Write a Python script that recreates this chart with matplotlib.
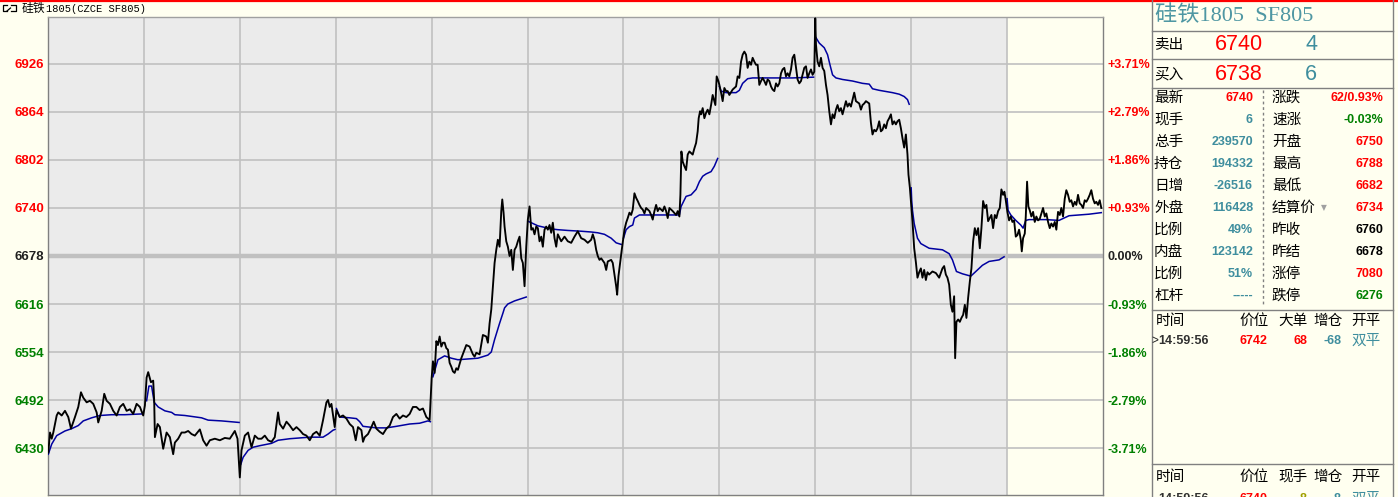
import numpy as np
import matplotlib
matplotlib.use("Agg")
from matplotlib import pyplot as plt

plt.rcParams["font.family"] = ["Liberation Sans", "Noto Sans CJK SC", "DejaVu Sans"]

# time in slots, 96 slots per trading day, 11 days on screen
price_t = [
    0.3, 2, 3.7, 5.3, 8.7, 10.3, 13.7, 17, 20.3, 23, 27, 30.3, 33, 35.3, 38.7, 42, 45.3, 48.7, 50.3, 53.7,
    56.3, 58.7, 62, 65.3, 68.7, 72, 75.3, 78.7, 82, 85.3, 88.7, 92, 95.3,
    97, 98.7, 100.3, 103, 105.3, 106.3, 107, 109.7, 112, 115.3, 118.7, 122, 125.3, 127, 130.3, 133.7, 137,
    140.3, 143.7, 147, 152, 155.3, 158.7, 162, 167, 172, 177, 182, 187, 189.7,
    192, 193.7, 197, 200.3, 203.7, 207, 210.3, 213.7, 217, 220.3, 223.7, 227, 230.3, 232, 235.3, 238.7, 242,
    245.3, 248.7, 252, 255.3, 258.7, 262, 265.3, 268.7, 272, 275.3, 278.7, 280.3, 282, 283.7, 287,
    288.7, 292, 295.3, 298.7, 302, 305.3, 308, 310.3, 313.7, 315.3, 317, 320.3, 323.7, 326, 328.7, 332, 335.3,
    338.7, 342, 345.3, 348.7, 352, 355.3, 358.7, 362, 365.3, 368.7, 372, 375.3, 378.7, 382,
    384, 385.3, 387, 388.7, 390.3, 392, 393.7, 395.3, 397, 398.7, 400.3, 402, 403.7, 405.3, 407, 408.7, 410.3,
    413.7, 417, 418.7, 422, 425.3, 427, 428.7, 432, 435.3, 438.7, 440.3, 442, 443.7, 445.3, 447, 448.7, 450.3,
    452, 453.7, 454.7, 456, 457, 458.7, 460.3, 462, 463.7, 465.3, 467, 468.7, 470.3, 472, 473.7, 475.3, 477, 478.7,
    480.3, 482, 483.7, 485.3, 487, 488.7, 490.3, 492, 493.7, 495.3, 497, 498.7, 500.3, 502, 503.7, 505.3, 507,
    508.7, 510.3, 513.7, 517, 520.3, 523.7, 527, 530.3, 533.7, 537, 540.3, 543.7, 545.3, 547, 548.7, 550.3, 552,
    553.7, 557, 558.7, 560.3, 563.7, 565.3, 567, 568.7, 569.7, 571, 573, 574.3, 575.7,
    577, 578.7, 580.3, 582, 583.7, 585.3, 587, 588.7, 590.3, 592, 593.7, 595.3, 597, 598.7, 602, 603.7, 605.3,
    607, 608.7, 610.3, 612, 615.3, 617, 618.7, 620.3, 622, 625.3, 628.7, 630.3, 632, 633, 634, 635.3, 637, 638.7,
    640.3, 642, 643.7, 645.3, 647, 648.7, 649.3, 650.3, 651.3, 652.7, 653.7, 655.3, 657, 658.7, 660.3, 662,
    663.7, 665.3, 667, 668, 669.3, 671,
    672, 673.7, 675.3, 677, 678.7, 680.3, 682, 685.3, 687, 688.7, 690.3, 692, 693.7, 695.3, 697, 698.7, 700.3,
    702, 703.7, 705.3, 707, 708.7, 710.3, 712, 713.7, 715.3, 717, 718.7, 720.3, 722, 723.7, 725.3, 727, 728.7,
    730.3, 732, 733.7, 735.3, 737, 738.7, 740.3, 742, 743.7, 745.3, 747, 748.7, 750.3, 752, 753.7, 755.3, 757,
    758.7, 760.3, 762, 763.7, 765.3, 767,
    768, 768.7, 770.3, 772, 773.7, 775.3, 777, 778.7, 780.3, 782, 783.7, 785.3, 787, 788.7, 790.3, 792, 793.7,
    795.3, 798.7, 800.3, 802, 803.7, 807, 808.7, 812, 813.7, 815.3, 817, 818.7, 822, 823.7, 825.3, 827, 828.7,
    830.3, 832, 833.7, 835.3, 837, 838.7, 840.3, 842, 843.7, 845.3, 847, 848.7, 850.3, 852, 853.7, 855.3, 857,
    858.7, 860.3, 861.3,
    862.7, 863.7, 865.3, 867, 868.7, 870.3, 872, 873.7, 875.3, 877, 878.7, 880.3, 882, 885.3, 888.7, 892, 895.3,
    897, 898.7, 900.3, 902, 903.7, 905.3, 907, 908, 909.3, 911, 912.7, 914.3, 916, 917.7, 919.3, 921, 922.7,
    924.3, 926, 927.7, 929.3, 931, 932.7, 934.3, 936, 937.7, 939.3, 941, 942.7, 944.3, 946, 947.7, 949.3, 951,
    952.7, 954.3, 956, 957.3,
    958.7, 960.3, 962, 963.7, 965.3, 967, 968.7, 970.3, 972, 973.7, 974.7, 976, 977.7, 978.7, 980, 981.3, 982.7,
    984.3, 986, 987.7, 989.3, 991, 992.7, 994.3, 996, 997.7, 999.3, 1001, 1002.7, 1004.3, 1006, 1007.7, 1009.3,
    1011, 1012.7, 1014.3, 1016, 1017.7, 1019.3, 1021, 1022.7, 1024.3, 1026, 1027.7, 1029.3, 1031, 1032.7,
    1034.3, 1036, 1037.7, 1039.3, 1041, 1042.7, 1044.3, 1046, 1047.7, 1049.3, 1051, 1052.7, 1054.3,
]
price = [
    6424, 6450, 6442, 6450, 6472, 6476, 6472, 6478, 6470, 6455, 6470, 6483, 6502, 6495, 6489, 6491, 6487, 6476, 6463, 6478,
    6500, 6491, 6487, 6478, 6472, 6483, 6487, 6478, 6480, 6474, 6487, 6483, 6472,
    6485, 6521, 6528, 6515, 6517, 6491, 6444, 6461, 6457, 6429, 6450, 6444, 6422, 6437, 6442, 6450, 6450,
    6452, 6448, 6446, 6454, 6440, 6433, 6440, 6442, 6440, 6443, 6442, 6452, 6442,
    6392, 6427, 6446, 6450, 6431, 6446, 6442, 6442, 6446, 6440, 6438, 6444, 6476, 6461, 6455, 6464, 6459,
    6453, 6457, 6453, 6448, 6446, 6440, 6448, 6451, 6446, 6466, 6489, 6492, 6483, 6487, 6457,
    6479, 6470, 6472, 6468, 6461, 6457, 6440, 6457, 6453, 6438, 6444, 6448, 6457, 6464, 6455, 6451, 6448,
    6455, 6459, 6470, 6474, 6468, 6472, 6470, 6474, 6483, 6483, 6479, 6481, 6470, 6466,
    6520, 6542, 6527, 6568, 6563, 6574, 6561, 6566, 6566, 6559, 6557, 6540, 6535, 6529, 6527, 6533, 6531,
    6546, 6557, 6563, 6561, 6551, 6548, 6553, 6551, 6576, 6574, 6566, 6591, 6609, 6639, 6669, 6686, 6699,
    6690, 6736, 6751, 6734, 6716, 6697, 6690, 6678, 6686, 6660, 6686, 6690, 6697, 6703, 6675, 6669, 6639, 6690,
    6725, 6742, 6712, 6714, 6706, 6716, 6714, 6697, 6703, 6690, 6712, 6716, 6712, 6718, 6708, 6721, 6701,
    6690, 6706, 6697, 6703, 6697, 6695, 6703, 6710, 6701, 6699, 6695, 6699, 6706, 6699, 6686, 6678, 6673,
    6675, 6669, 6660, 6671, 6673, 6669, 6654, 6639, 6628, 6652, 6673, 6686, 6699,
    6712, 6721, 6727, 6734, 6731, 6738, 6759, 6753, 6749, 6744, 6740, 6738, 6733, 6740, 6736, 6731, 6725,
    6736, 6744, 6736, 6740, 6736, 6742, 6736, 6727, 6740, 6736, 6731, 6736, 6729, 6757, 6813, 6800, 6794, 6789,
    6809, 6813, 6811, 6809, 6817, 6824, 6830, 6839, 6856, 6865, 6861, 6869, 6856, 6863, 6867, 6861,
    6873, 6886, 6878, 6873, 6910, 6904,
    6899, 6889, 6878, 6895, 6891, 6891, 6886, 6893, 6895, 6897, 6910, 6908, 6929, 6938, 6942, 6938, 6921,
    6929, 6925, 6934, 6929, 6925, 6925, 6899, 6904, 6908, 6904, 6899, 6906, 6904, 6897, 6893, 6891, 6901,
    6897, 6901, 6914, 6919, 6921, 6910, 6914, 6910, 6919, 6934, 6938, 6921, 6906, 6901, 6904, 6912, 6921,
    6923, 6908, 6914, 6919, 6912, 6916,
    6985, 6951, 6929, 6923, 6934, 6921, 6917, 6899, 6886, 6865, 6848, 6861, 6856, 6867, 6873, 6865, 6869,
    6861, 6878, 6871, 6875, 6871, 6889, 6878, 6875, 6867, 6873, 6875, 6878, 6875, 6850, 6835, 6841, 6839,
    6843, 6852, 6839, 6841, 6848, 6843, 6852, 6856, 6861, 6848, 6852, 6848, 6852, 6854, 6843, 6830, 6818,
    6835, 6809, 6783,
    6766, 6749, 6723, 6688, 6670, 6650, 6657, 6662, 6650, 6660, 6647, 6657, 6654, 6658, 6656, 6650, 6662,
    6665, 6654, 6650, 6641, 6615, 6606, 6626, 6546, 6593, 6596, 6593, 6598, 6602, 6615, 6598, 6624, 6645,
    6662, 6697, 6714, 6705, 6714, 6688, 6714, 6749, 6740, 6744, 6723, 6727, 6731, 6714, 6731, 6727, 6736,
    6740, 6764, 6757, 6761,
    6750, 6735, 6724, 6729, 6722, 6724, 6703, 6705, 6712, 6699, 6684, 6701, 6707, 6729, 6774, 6742, 6737,
    6729, 6735, 6722, 6729, 6724, 6726, 6733, 6740, 6729, 6733, 6722, 6714, 6720, 6716, 6722, 6712,
    6735, 6731, 6740, 6729, 6752, 6763, 6757, 6748, 6750, 6742, 6748, 6744, 6757, 6746,
    6744, 6740, 6750, 6748, 6752, 6757, 6763, 6752, 6746, 6748, 6744, 6750, 6740,
]

# average price, restarts every day
avg_t = [
    0.3, 3.7, 8.7, 17, 23.7, 30.3, 35.3, 43.7, 52, 63.7, 77, 93.7,
    98.7, 101, 103.7, 106.3, 110.3, 117, 123.7, 127, 137, 153.7, 160.3, 173.7, 191.3,
    193, 195.3, 200.3, 205.3, 212, 223.7, 230.3, 242, 262, 275.3, 280.3, 285.3, 287.3,
    288.7, 292, 302, 308.7, 312, 315.3, 328.7, 338.7, 348.7, 362, 372, 380.3, 382.7,
    385.3, 390.3, 397, 403.7, 410.3, 420.3, 430.3, 440.3, 443.7, 447, 452, 455.3, 457, 460.3, 467, 478.7,
    480.3, 483.7, 490.3, 497, 503.7, 510.3, 520.3, 533.7, 543.7, 550.3, 557, 563.7, 568.7, 573.7,
    576, 578.7, 582, 585.3, 587, 592, 632, 633.7, 638.7, 643.7, 648.7, 652, 655.3, 658.7, 663.7, 667, 670.3,
    672, 673.7, 678.7, 688.7, 692, 695.3, 700.3, 705.3, 722, 745.3, 766.3,
    768.7, 772, 777, 780.3, 782.7, 785.3, 788.7, 795.3, 805.3, 815.3, 822, 825.3, 832, 845.3, 852, 857, 860.3, 862,
    864, 864.5, 865.3, 867, 870.3, 873.7, 882, 895.3, 902, 905.3, 909.3, 915.3, 923.7, 928.7, 935.3, 942, 952, 957,
    960, 961, 963.7, 968.7, 973.7, 976, 978.7, 982, 998.7, 1012, 1017, 1022, 1032, 1042, 1054.3,
]
avg = [
    6422, 6435, 6446, 6452, 6455, 6459, 6465, 6469, 6472, 6473, 6473, 6474,
    6491, 6510, 6510, 6489, 6483, 6478, 6476, 6473, 6472, 6469, 6466, 6465, 6463,
    6409, 6418, 6427, 6431, 6433, 6436, 6440, 6442, 6444, 6444, 6448, 6453, 6454,
    6481, 6470, 6469, 6468, 6464, 6458, 6456, 6456, 6458, 6461, 6462, 6465, 6464,
    6522, 6544, 6549, 6546, 6544, 6545, 6546, 6550, 6554, 6570, 6591, 6604, 6611, 6616, 6620, 6625,
    6723, 6721, 6717, 6715, 6713, 6712, 6711, 6710, 6709, 6708, 6706, 6701, 6695, 6693,
    6701, 6712, 6716, 6718, 6727, 6731, 6731, 6742, 6755, 6757, 6764, 6774, 6781, 6784, 6787, 6794, 6804,
    6897, 6891, 6889, 6889, 6892, 6901, 6907, 6908, 6908, 6908, 6909,
    6960, 6953, 6947, 6938, 6925, 6912, 6908, 6906, 6904, 6901, 6900, 6894, 6892, 6889, 6887, 6884, 6880, 6874,
    6766, 6750, 6737, 6720, 6701, 6694, 6688, 6686, 6681, 6673, 6658, 6655, 6652, 6658, 6666, 6671, 6673, 6677,
    6752, 6737, 6731, 6724, 6718, 6714, 6724, 6725, 6725, 6724, 6727, 6730, 6731, 6732, 6734,
]

prev_close = 6678
price_ticks = [6430, 6492, 6554, 6616, 6678, 6740, 6802, 6864, 6926]

quote_left_names = ["最新", "现手", "总手", "持仓", "日增", "外盘", "比例", "内盘", "比例", "杠杆"]
quote_left_vals = ["6740", "6", "239570", "194332", "-26516", "116428", "49%", "123142", "51%", "-----"]
quote_right_names = ["涨跌", "速涨", "开盘", "最高", "最低", "结算价", "昨收", "昨结", "涨停", "跌停"]
quote_right_vals = ["62/0.93%", "-0.03%", "6750", "6788", "6682", "6734", "6760", "6678", "7080", "6276"]

RED, GREEN, TEAL, DARK = "#FF0000", "#008000", "#3F8E9E", "#202020"
CREAM, GRID, EDGE = "#FFFFF0", "#C0C0C0", "#808080"
CJK = ["Noto Sans CJK SC"]

quote_left_colors = [RED] + [TEAL] * 9
quote_right_colors = [RED, GREEN, RED, RED, RED, RED, "black", "black", RED, GREEN]

W, H = 1398, 497
fig = plt.figure(figsize=(W / 100, H / 100), dpi=100, facecolor=CREAM)


def px_rect(x0, y0, x1, y1):
    return [x0 / W, 1 - y1 / H, (x1 - x0) / W, (y1 - y0) / H]


ax = fig.add_axes(px_rect(48, 17, 1103, 495))
ax.set_facecolor(CREAM)
ax.set_xlim(0, 1056)
half = 308.7
ax.set_ylim(prev_close - half, prev_close + half)
ax.axvspan(0, 960, color="#EBEBEB", lw=0, zorder=0)
for k in range(1, 11):
    ax.axvline(96 * k, color=GRID, lw=1.2, zorder=1)
for p in price_ticks:
    ax.axhline(p, color=GRID, lw=3.2 if p == prev_close else 1.2, zorder=1)

at = np.array(avg_t)
av = np.array(avg)
day = np.floor(at / 96)
for d in np.unique(day):
    m = day == d
    ax.plot(at[m], av[m], color="#0000A0", lw=1.1, zorder=3)
ax.plot(price_t, price, color="black", lw=1.35, zorder=4)

tick_colors = [RED if p > prev_close else (GREEN if p < prev_close else DARK) for p in price_ticks]
ax.set_xticks([])
ax.set_yticks(price_ticks)
ax.set_yticklabels([str(p) for p in price_ticks])
ax.tick_params(axis="y", length=0, pad=3, labelsize=9.5)
for lab, c in zip(ax.get_yticklabels(), tick_colors):
    lab.set_color(c)
    lab.set_fontweight("bold")
for s in ax.spines.values():
    s.set_color(EDGE)
    s.set_linewidth(1)
ax.spines["top"].set_color("#A0A0A0")

pct = []
for p in price_ticks:
    v = (p - prev_close) / prev_close * 100
    pct.append("0.00%" if p == prev_close else f"{v:+.2f}%")
ax2 = ax.twinx()
ax2.set_ylim(ax.get_ylim())
ax2.set_yticks(price_ticks)
ax2.set_yticklabels(pct)
ax2.tick_params(axis="y", length=0, pad=3, labelsize=9)
for lab, c in zip(ax2.get_yticklabels(), tick_colors):
    lab.set_color(c)
    lab.set_fontweight("bold")
for s in ax2.spines.values():
    s.set_visible(False)

# overlay in pixel coords for title bar and quote panel
pan = fig.add_axes([0, 0, 1, 1], zorder=10)
pan.set_xlim(0, W)
pan.set_ylim(H, 0)
pan.axis("off")
pan.patch.set_alpha(0)

pan.plot([0, W], [0.6, 0.6], color=RED, lw=1.6)
pan.plot([7, 2.5, 2.5, 7], [5, 5, 11, 11], color="black", lw=0.9)
pan.plot([7, 10.5], [11, 8], color="black", lw=0.9)
pan.plot([10.5, 16, 16, 10.5], [5, 5, 11, 11], color="black", lw=0.9)
pan.text(22, 8.5, "硅铁", family=CJK, fontsize=8.5, va="center")
pan.text(46, 8.5, "1805(CZCE SF805)", family=["Liberation Mono"], fontsize=7.5, va="center")

pan.plot([1152, 1152], [0, H], color=EDGE, lw=1)
pan.plot([1393, 1393], [0, H], color=EDGE, lw=1)
for yy in [30.5, 58.5, 87.5, 310, 464]:
    pan.plot([1152, 1393], [yy, yy], color=EDGE, lw=1)
pan.plot([1263, 1263], [90, 306], color=EDGE, lw=1, ls=(0, (2, 2)))

pan.text(1155, 16, "硅铁1805  SF805", family=["Liberation Serif", "Noto Sans CJK SC"],
         fontsize=16, color="#4F97A3", va="center")
for yy, name, px_, vol in [(45, "卖出", "6740", "4"), (74, "买入", "6738", "6")]:
    pan.text(1154, yy, name, family=CJK, fontsize=10.5, va="center")
    pan.text(1263, yy, px_, fontsize=15.5, color=RED, va="center", ha="right")
    pan.text(1317, yy, vol, fontsize=15.5, color=TEAL, va="center", ha="right")

for i in range(len(quote_left_names)):
    yy = 98 + 22 * i
    pan.text(1154, yy, quote_left_names[i], family=CJK, fontsize=10.5, va="center")
    pan.text(1253, yy, quote_left_vals[i], fontsize=9, fontweight="bold",
             color=quote_left_colors[i], va="center", ha="right")
    pan.text(1272, yy, quote_right_names[i], family=CJK, fontsize=10.5, va="center")
    pan.text(1383, yy, quote_right_vals[i], fontsize=9, fontweight="bold",
             color=quote_right_colors[i], va="center", ha="right")
pan.text(1321, 208, "▼", fontsize=5.5, color="#A0A0A0", va="center", family=["DejaVu Sans"])

for yy, cols in [(321, ["时间", "价位", "大单", "增仓", "开平"]), (477, ["时间", "价位", "现手", "增仓", "开平"])]:
    for xx, name in zip([1156, 1239, 1278, 1313, 1351], cols):
        pan.text(xx, yy, name, family=CJK, fontsize=10.5, va="center")

for yy, vols, arrow in [(341, ["6742", "68", "-68"], True), (499, ["6740", "8", "8"], False)]:
    if arrow:
        pan.text(1151, yy, ">", fontsize=8.5, color=DARK, va="center")
    pan.text(1158, yy, "14:59:56", fontsize=9, fontweight="bold", color="#303030", va="center")
    pan.text(1239, yy, vols[0], fontsize=9, fontweight="bold", color=RED, va="center")
    pan.text(1307, yy, vols[1], fontsize=9, fontweight="bold",
             color=RED if arrow else "#A0A000", va="center", ha="right")
    pan.text(1341, yy, vols[2], fontsize=9, fontweight="bold", color=TEAL, va="center", ha="right")
    pan.text(1351, yy, "双平", family=CJK, fontsize=10.5, color=TEAL, va="center")

fig.savefig("out.png", dpi=100, facecolor=CREAM)
